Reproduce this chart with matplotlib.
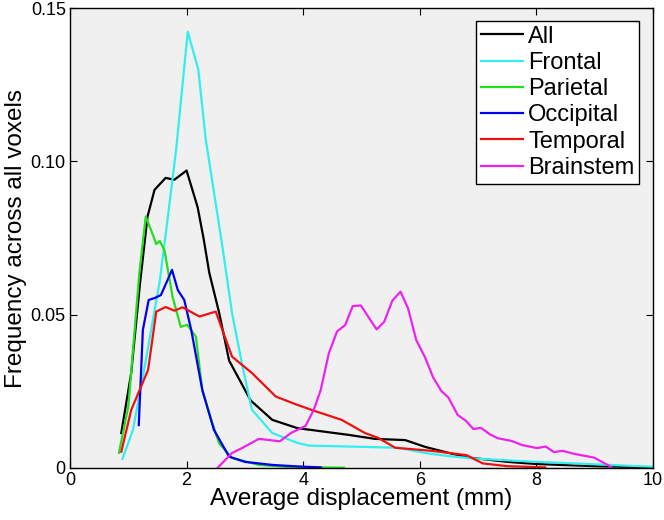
import matplotlib
matplotlib.use("Agg")
import matplotlib.pyplot as plt

plt.rcParams['font.family'] = ['Liberation Sans', 'DejaVu Sans']

# Average displacement (mm) vs frequency
all_x = [0.88, 1.05, 1.2, 1.33, 1.45, 1.64, 1.79, 2.0, 2.19, 2.29, 2.39, 2.56, 2.73, 3.1,
         3.47, 3.9, 4.38, 4.78, 5.23, 5.75, 6.09, 6.48, 6.8, 7.5, 8.0, 9.0, 10.0]
all_y = [0.0114, 0.031, 0.06, 0.082, 0.0907, 0.0946, 0.094, 0.097, 0.085, 0.075, 0.0636, 0.0505,
         0.035, 0.022, 0.0157, 0.013, 0.0118, 0.0108, 0.0095, 0.0091, 0.0069, 0.005, 0.0035,
         0.002, 0.0013, 0.0006, 0.0002]

frontal_x = [0.9, 1.08, 1.3, 1.54, 1.64, 1.82, 2.02, 2.2, 2.33, 2.6, 2.78, 2.95, 3.12, 3.47,
             3.9, 4.1, 4.78, 5.63, 6.09, 6.48, 7.0, 8.0, 9.0, 10.0]
frontal_y = [0.003, 0.0124, 0.035, 0.061, 0.076, 0.1037, 0.1423, 0.130, 0.107, 0.074, 0.0505,
             0.034, 0.019, 0.0114, 0.0082, 0.0073, 0.007, 0.0066, 0.0049, 0.0039, 0.003,
             0.002, 0.0012, 0.0004]

parietal_x = [0.84, 1.0, 1.19, 1.3, 1.39, 1.48, 1.54, 1.62, 1.76, 1.9, 2.01, 2.16, 2.27, 2.44,
              2.56, 2.78, 3.24, 3.8, 4.7]
parietal_y = [0.005, 0.02, 0.0636, 0.082, 0.0776, 0.073, 0.074, 0.071, 0.0558, 0.046, 0.0467,
              0.0428, 0.0254, 0.0147, 0.008, 0.0033, 0.001, 0.0003, 0.0001]

occipital_x = [1.18, 1.25, 1.35, 1.45, 1.56, 1.75, 1.85, 1.96, 2.08, 2.27, 2.47, 2.73, 3.0,
               3.47, 3.92, 4.3]
occipital_y = [0.014, 0.045, 0.0548, 0.0554, 0.0564, 0.0646, 0.058, 0.0548, 0.045, 0.0254,
               0.0124, 0.0037, 0.002, 0.001, 0.0005, 0.0002]

temporal_x = [0.88, 1.05, 1.34, 1.48, 1.64, 1.79, 1.93, 2.22, 2.5, 2.78, 3.12, 3.53, 3.87,
              4.15, 4.66, 5.06, 5.29, 5.58, 6.2, 6.8, 7.08, 7.5, 8.15]
temporal_y = [0.0053, 0.0189, 0.032, 0.051, 0.0525, 0.0513, 0.0524, 0.0494, 0.051, 0.0363,
              0.031, 0.0233, 0.0208, 0.0189, 0.0157, 0.0114, 0.0098, 0.0066, 0.0056, 0.0042,
              0.0015, 0.0006, 0.0002]

brainstem_x = [2.53, 2.78, 2.95, 3.24, 3.6, 3.79, 4.04, 4.18, 4.3, 4.44, 4.58, 4.72, 4.85, 4.99,
               5.13, 5.26, 5.39, 5.53, 5.67, 5.8, 5.94, 6.09, 6.23, 6.37, 6.49, 6.65, 6.79,
               6.92, 7.05, 7.2, 7.34, 7.58, 7.75, 8.01, 8.16, 8.3, 8.45, 8.65, 8.99, 9.28]
brainstem_y = [0.0, 0.0049, 0.0065, 0.0095, 0.0087, 0.0114, 0.0137, 0.0189, 0.0254, 0.0374,
               0.0445, 0.0466, 0.0528, 0.053, 0.0489, 0.0452, 0.0477, 0.0546, 0.0575, 0.052,
               0.0417, 0.0361, 0.0295, 0.0251, 0.023, 0.0173, 0.0154, 0.0127, 0.0131, 0.011,
               0.0097, 0.0088, 0.0075, 0.0065, 0.007, 0.0052, 0.0056, 0.0046, 0.0034, 0.0004]

series = [("All", all_x, all_y, "#000000"),
          ("Frontal", frontal_x, frontal_y, "#33eeee"),
          ("Parietal", parietal_x, parietal_y, "#22dd22"),
          ("Occipital", occipital_x, occipital_y, "#0000ee"),
          ("Temporal", temporal_x, temporal_y, "#ee1111"),
          ("Brainstem", brainstem_x, brainstem_y, "#ee22ee")]

fig = plt.figure(figsize=(6.64, 5.20), dpi=100)
ax = fig.add_axes([0.1054, 0.1, 0.878, 0.8846])
ax.set_facecolor("#f0f0f0")

for name, xs, ys, col in series:
    ax.plot(xs, ys, "-", color=col, lw=1.6, label=name)

ax.set_xlim(0, 10)
ax.set_ylim(0, 0.15)
ax.set_xticks([0, 2, 4, 6, 8, 10])
ax.set_yticks([0, 0.05, 0.10, 0.15])
ax.set_yticklabels(["0", "0.05", "0.10", "0.15"])
ax.tick_params(axis="both", direction="in", top=True, right=True, labelsize=13,
               length=5, pad=3)
for sp in ax.spines.values():
    sp.set_linewidth(1.0)

ax.set_xlabel("Average displacement (mm)", fontsize=17.5, labelpad=-1)
ax.set_ylabel("Frequency across all voxels", fontsize=17.5, labelpad=3)

leg = ax.legend(loc="upper right", bbox_to_anchor=(0.976, 0.972), fontsize=17,
                handlelength=1.8, handletextpad=0.2, labelspacing=0.18,
                borderpad=0.2, borderaxespad=0.0, fancybox=False, framealpha=1)
leg.get_frame().set_edgecolor("black")
leg.get_frame().set_linewidth(1.0)

fig.savefig("out.png", dpi=100)
